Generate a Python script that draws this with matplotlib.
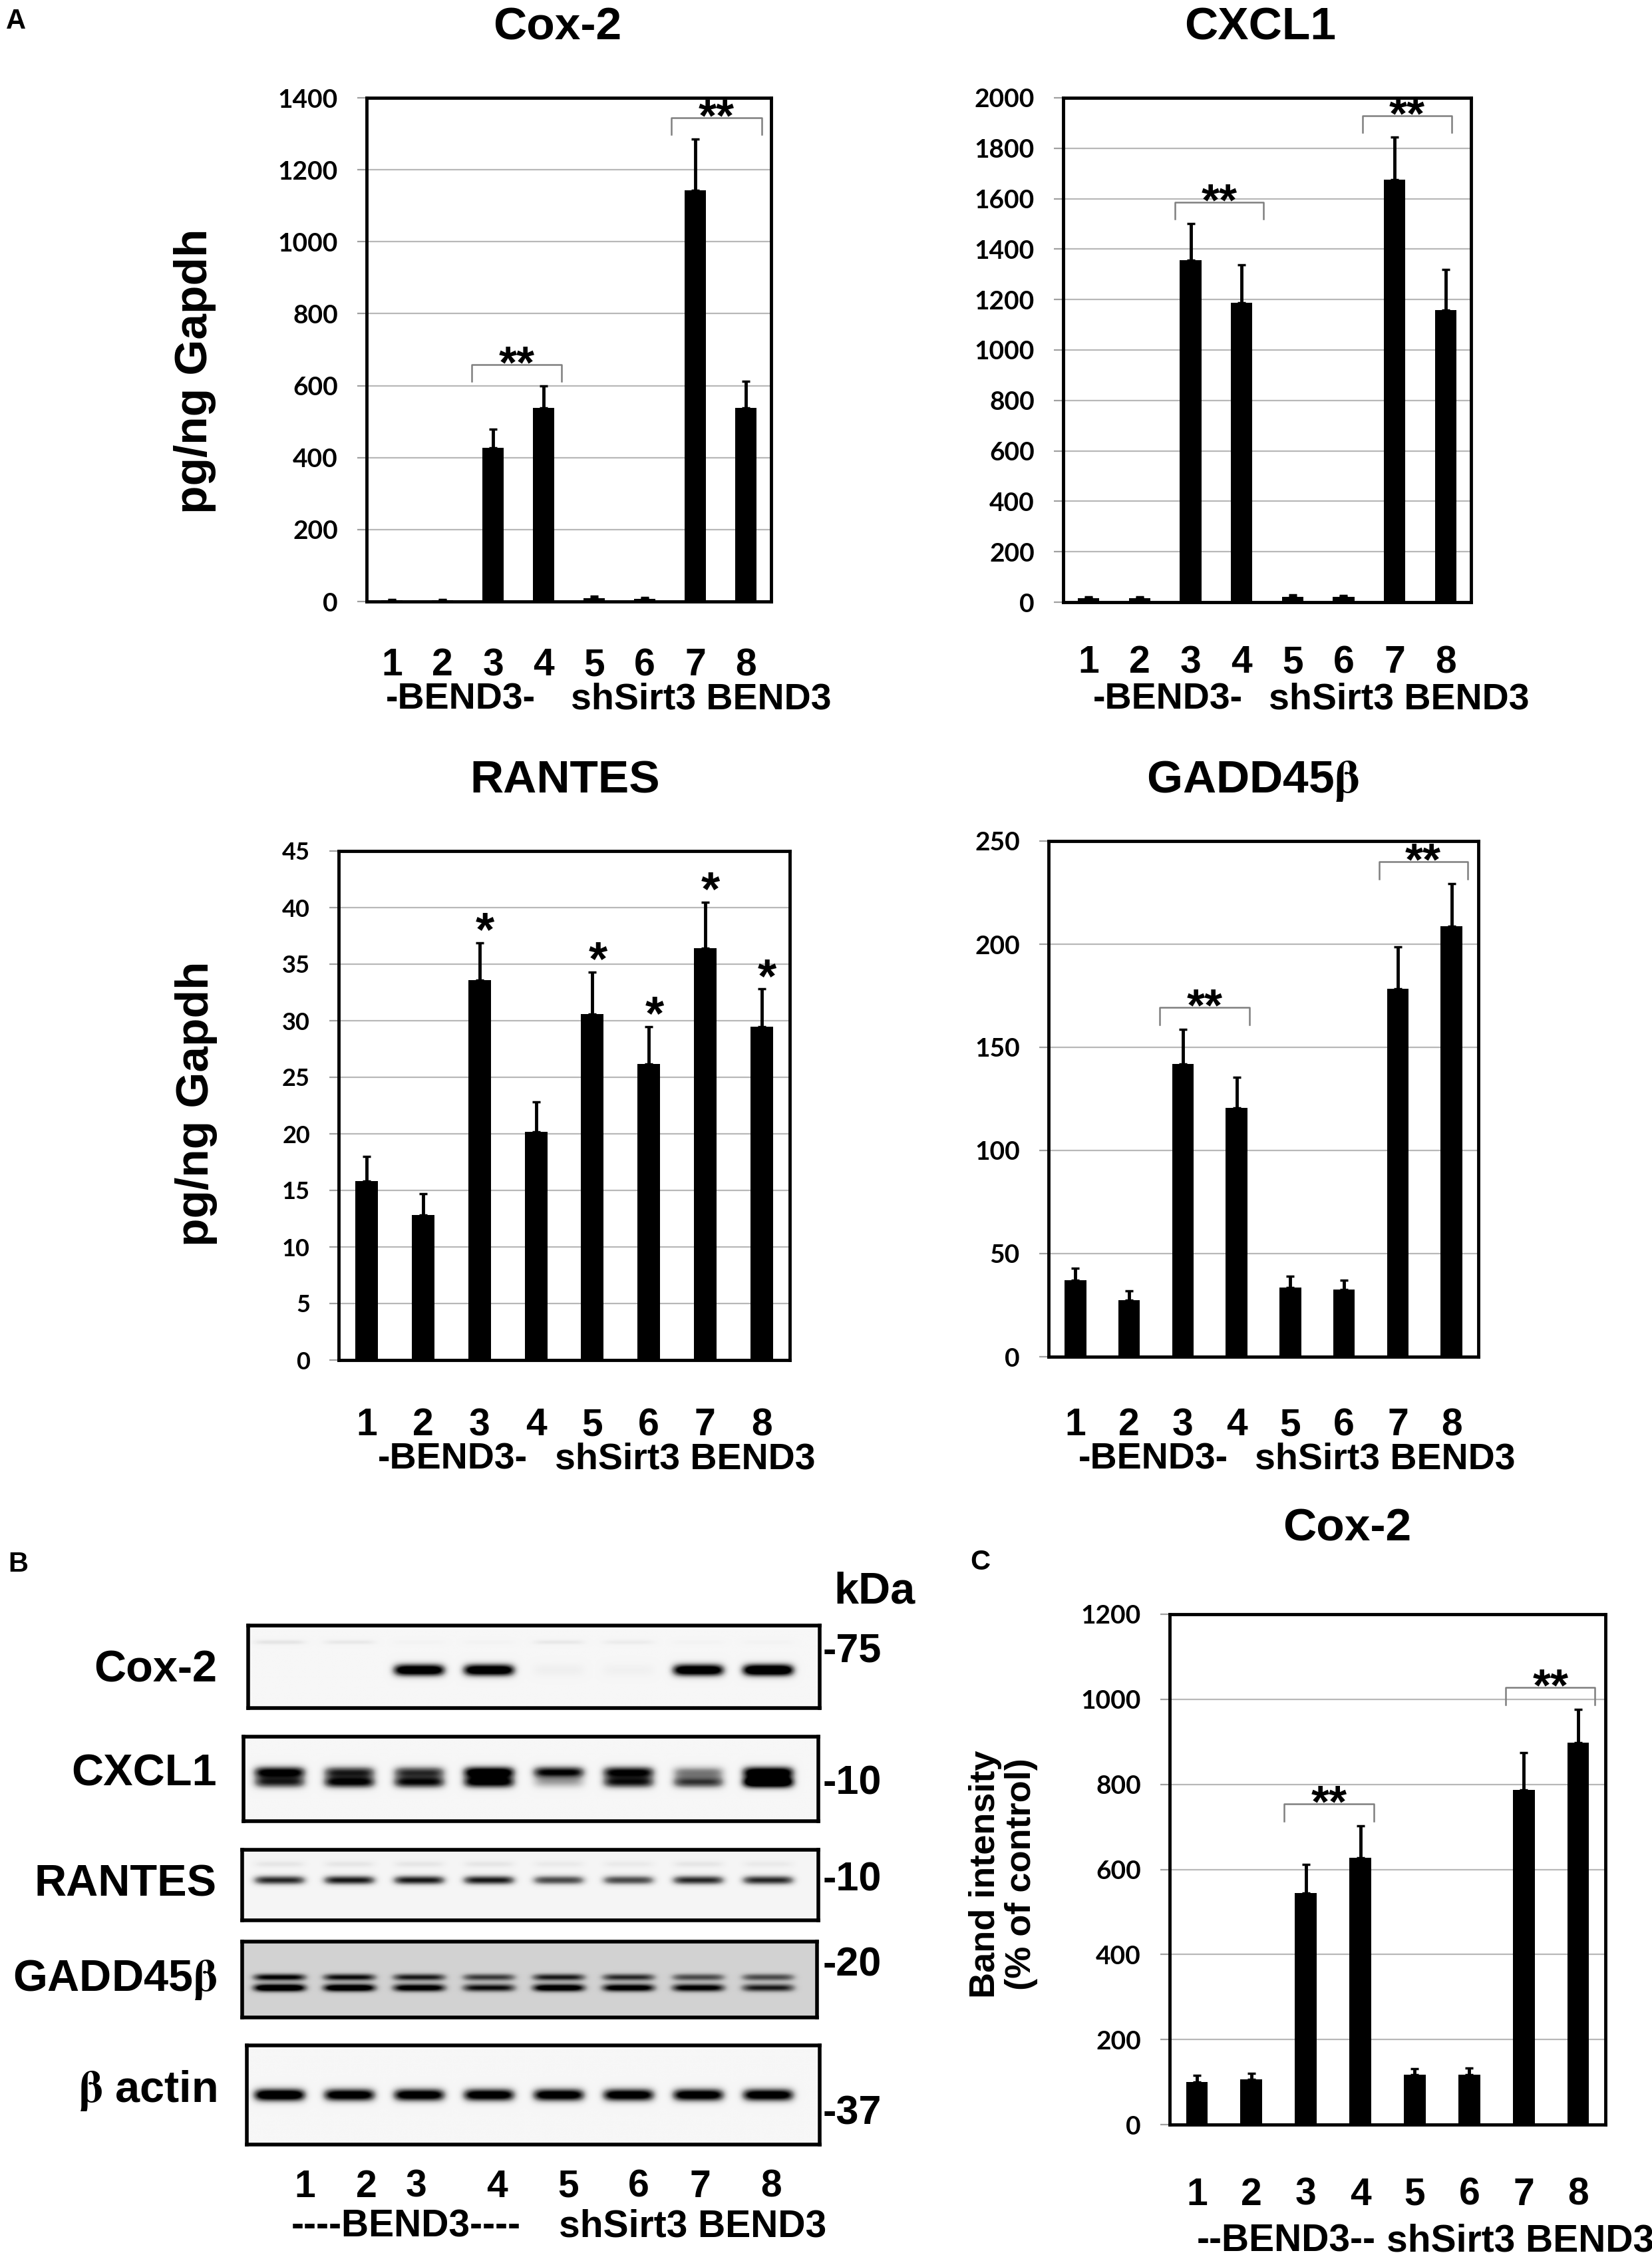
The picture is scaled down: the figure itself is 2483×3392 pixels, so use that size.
import numpy as np
import matplotlib
matplotlib.use('Agg')
import matplotlib.pyplot as plt

plt.rcParams['font.family'] = ['Liberation Sans', 'DejaVu Sans']
plt.rcParams['font.weight'] = 'bold'
plt.rcParams['mathtext.fontset'] = 'stix'

W, H = 2483, 3392

lanes = np.arange(1, 9)
lane_names = ['1', '2', '3', '4', '5', '6', '7', '8']

# A: ELISA-type values (mean, upper error bar)
cox2_mean = [3, 3, 428, 539, 10, 8, 1143, 539]
cox2_err = [3, 3, 51, 60, 4, 4, 143, 73]
cxcl1_mean = [15, 15, 1356, 1188, 22, 20, 1675, 1157]
cxcl1_err = [7, 7, 146, 149, 6, 6, 169, 163]
rantes_mean = [15.8, 12.8, 33.6, 20.2, 30.6, 26.2, 36.4, 29.5]
rantes_err = [2.2, 1.9, 3.3, 2.6, 3.7, 3.3, 4.1, 3.3]
rantes_star = [3, 5, 6, 7, 8]
gadd_mean = [37.2, 27.4, 141.9, 120.5, 33.7, 32.6, 178.4, 208.8]
gadd_err = [5.8, 4.6, 16.9, 15.1, 5.3, 4.6, 20.4, 20.7]

# C: densitometry of the Cox-2 blot
band_mean = [100, 106, 545, 627, 117, 118, 787, 898]
band_err = [16, 14, 67, 76, 15, 15, 88, 79]

# B: band darkness per lane (0 none .. 1 black)
blot_names = ['Cox-2', 'CXCL1', 'RANTES', r'GADD45$\mathrm{\beta}$', r'$\mathrm{\beta}$ actin']
kda_marks = ['-75', '-10', '-10', '-20', '-37']
cox2_band = [0.0, 0.0, 1.2, 1.2, 0.06, 0.05, 1.2, 1.3]
cox2_band_top = [0.12, 0.10, 0.03, 0.03, 0.10, 0.08, 0.03, 0.03]
cxcl1_band_up = [1.0, 0.8, 0.75, 1.1, 0.95, 0.95, 0.5, 1.1]
cxcl1_band_low = [0.8, 0.95, 0.9, 1.0, 0.35, 0.85, 0.75, 1.3]
rantes_band = [0.8, 0.85, 0.85, 0.85, 0.7, 0.7, 0.8, 0.8]
rantes_band_top = [0.1, 0.1, 0.1, 0.1, 0.08, 0.08, 0.1, 0.08]
gadd_band_up = [0.75, 0.7, 0.65, 0.55, 0.65, 0.6, 0.5, 0.5]
gadd_band_low = [1.0, 0.95, 0.85, 0.7, 0.9, 0.85, 0.8, 0.65]
actin_band = [1.2, 1.1, 1.1, 1.1, 1.1, 1.1, 1.1, 1.1]

fig = plt.figure(figsize=(W / 100, H / 100), dpi=100)


def box(l, t, r, b):
    return fig.add_axes([l / W, 1 - b / H, (r - l) / W, (b - t) / H])


def ftext(x, y, s, size, **kw):
    kw.setdefault('ha', 'center')
    kw.setdefault('va', 'center')
    fig.text(x / W, 1 - y / H, s, fontsize=size, fontweight='bold', **kw)


def bar_panel(pos, mean, err, ymax, ystep, bar_w, tick_fs=28):
    ax = box(*pos)
    ax.bar(lanes, mean, width=bar_w, color='black', zorder=3)
    ax.errorbar(lanes, mean, yerr=[np.zeros(8), err], fmt='none', ecolor='black',
                elinewidth=3.5, capsize=4, capthick=2.5, zorder=4)
    ax.set_xlim(0.5, 8.5)
    ax.set_ylim(0, ymax)
    ticks = np.arange(0, ymax + ystep / 2, ystep)
    ax.set_yticks(ticks)
    ax.set_yticklabels([str(int(t)) for t in ticks], fontfamily='Lato',
                       fontweight='bold', fontsize=tick_fs)
    ax.set_xticks([])
    ax.yaxis.grid(True, color='#b8b8b8', lw=1.6)
    ax.set_axisbelow(True)
    for s in ax.spines.values():
        s.set_linewidth(3.5)
    ax.tick_params(axis='y', length=10, width=1.6, color='#a0a0a0', pad=21)
    return ax


def lane_numbers(pos, y, size=41):
    l, t, r, b = pos
    for lane, name in zip(lanes, lane_names):
        ftext(l + (lane - 0.5) * (r - l) / 8, y, name, size)


def bracket(ax, a, b, x0, x1, top, ymax):
    y = max(top[a - 1], top[b - 1]) + 0.042 * ymax
    y_end = y - 0.033 * ymax
    ax.plot([x0, x0, x1, x1], [y_end, y, y, y_end], color='#7f7f7f', lw=1.8,
            zorder=5, clip_on=False)
    ax.annotate('**', ((x0 + x1) / 2, y), xytext=(0, -14), textcoords='offset points',
                ha='center', va='baseline', fontsize=50, fontweight='bold')


def tops(mean, err):
    return [m + e for m, e in zip(mean, err)]


# ---------------- A ----------------
ftext(24, 32, 'A', 30)

pos = (551, 147, 1159, 904)
ax = bar_panel(pos, cox2_mean, cox2_err, 1400, 200, 0.42)
t = tops(cox2_mean, cox2_err)
bracket(ax, 3, 4, 2.58, 4.35, t, 1400)
bracket(ax, 7, 8, 6.52, 8.31, t, 1400)
ftext(838, 42, 'Cox-2', 50)
ftext(293, 558, 'pg/ng Gapdh', 50, rotation=90)
lane_numbers(pos, 1000)
ftext(692, 1052, '-BEND3-', 40)
ftext(1054, 1052, 'shSirt3 BEND3', 40)

pos = (1598, 147, 2211, 905)
ax = bar_panel(pos, cxcl1_mean, cxcl1_err, 2000, 200, 0.42)
t = tops(cxcl1_mean, cxcl1_err)
bracket(ax, 3, 4, 2.69, 4.43, t, 2000)
bracket(ax, 7, 8, 6.37, 8.12, t, 2000)
ftext(1894, 42, 'CXCL1', 50)
lane_numbers(pos, 996)
ftext(1755, 1052, '-BEND3-', 40)
ftext(2103, 1052, 'shSirt3 BEND3', 40)

pos = (509, 1279, 1187, 2044)
ax = bar_panel(pos, rantes_mean, rantes_err, 45, 5, 0.40, tick_fs=26)
t = tops(rantes_mean, rantes_err)
for lane in rantes_star:
    ax.annotate('*', (lane + 0.1, t[lane - 1]), xytext=(0, -3), textcoords='offset points',
                ha='center', va='baseline', fontsize=52, fontweight='bold')
ftext(849, 1174, 'RANTES', 50)
ftext(295, 1659, 'pg/ng Gapdh', 50, rotation=90)
lane_numbers(pos, 2142)
ftext(680, 2194, '-BEND3-', 40)
ftext(1030, 2194, 'shSirt3 BEND3', 40)

pos = (1576, 1264, 2222, 2039)
ax = bar_panel(pos, gadd_mean, gadd_err, 250, 50, 0.40)
t = tops(gadd_mean, gadd_err)
bracket(ax, 3, 4, 2.57, 4.24, t, 250)
bracket(ax, 7, 8, 6.65, 8.30, t, 250)
ftext(1883, 1174, r'GADD45$\mathrm{\beta}$', 50)
lane_numbers(pos, 2142)
ftext(1733, 2194, '-BEND3-', 40)
ftext(2082, 2194, 'shSirt3 BEND3', 40)

# ---------------- B ----------------
ftext(27, 2351, 'B', 30)
ftext(1314, 2393, 'kDa', 48)

lane0_px, pitch_px = 420, 105
blot_boxes = [(373, 2443, 1232, 2567), (366, 2610, 1230, 2737), (364, 2780, 1230, 2886),
              (364, 2918, 1228, 3032), (371, 3074, 1232, 3223)]
blot_bands = [
    [(0.2, 0.03, cox2_band_top), (0.54, 0.075, cox2_band)],
    [(0.42, 0.07, cxcl1_band_up), (0.54, 0.07, cxcl1_band_low)],
    [(0.2, 0.05, rantes_band_top), (0.43, 0.065, rantes_band)],
    [(0.47, 0.045, gadd_band_up), (0.61, 0.05, gadd_band_low)],
    [(0.5, 0.065, actin_band)],
]
blot_bg = [0.07, 0.07, 0.08, 0.28, 0.07]
label_y = [2510, 2667, 2833, 2975, 3142]
kda_y = [2482, 2681, 2826, 2954, 3177]

for (l, tp, r, b), bands, bg, name, ly, mark, ky in zip(blot_boxes, blot_bands, blot_bg,
                                                        blot_names, label_y, kda_marks, kda_y):
    ax = box(l, tp, r, b)
    x0 = 1 + (l - lane0_px) / pitch_px
    x1 = 1 + (r - lane0_px) / pitch_px
    X, Y = np.meshgrid(np.linspace(x0, x1, 900), np.linspace(0, 1, 160))
    img = np.full(X.shape, bg)
    for yc, sy, dark in bands:
        for lane, d in zip(lanes, dark):
            img += d * np.exp(-np.abs((X - lane) / 0.37) ** 6) * np.exp(-((Y - yc) / sy) ** 2)
    ax.imshow(np.clip(img, 0, 1), cmap='Greys', vmin=0, vmax=1, extent=(x0, x1, 1, 0),
              aspect='auto', interpolation='bilinear')
    ax.set_xticks([])
    ax.set_yticks([])
    for s in ax.spines.values():
        s.set_linewidth(4)
    ftext(326, ly, name, 48, ha='right')
    ftext(1237, ky, mark, 44, ha='left')

b_lane_px = [458, 551, 625, 747, 854, 960, 1052, 1159]
for x, name in zip(b_lane_px, lane_names):
    ftext(x, 3287, name, 41)
ftext(610, 3347, '----BEND3----', 41)
ftext(1041, 3347, 'shSirt3 BEND3', 41)

# ---------------- C ----------------
ftext(1473, 2348, 'C', 30)
pos = (1758, 2426, 2413, 3193)
ax = bar_panel(pos, band_mean, band_err, 1200, 200, 0.40)
t = tops(band_mean, band_err)
bracket(ax, 3, 4, 2.60, 4.25, t, 1200)
bracket(ax, 7, 8, 6.67, 8.31, t, 1200)
ftext(2025, 2297, 'Cox-2', 50)
ftext(1508, 2817, 'Band intensity\n(% of control)', 39, rotation=90,
      multialignment='center', linespacing=1.1)
lane_numbers(pos, 3299)
ftext(1933, 3368, '--BEND3--', 41)
ftext(2285, 3368, 'shSirt3 BEND3', 41)

fig.savefig('out.png', dpi=100)
